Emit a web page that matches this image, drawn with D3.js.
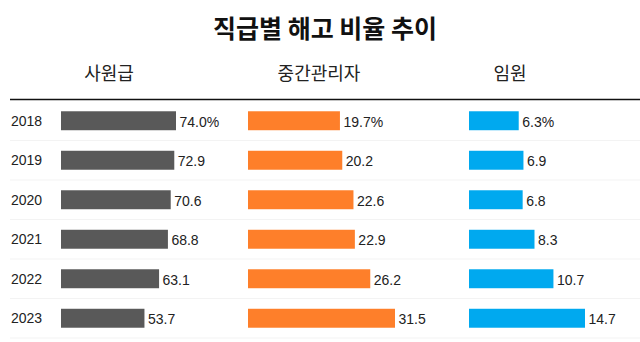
<!DOCTYPE html>
<html><head><meta charset="utf-8">
<script src="https://cdn.jsdelivr.net/npm/d3@7"></script>
<style>body{margin:0;background:#fff}svg{display:block}</style>
</head><body>
<svg id="c" width="640" height="342"></svg>
<script>
const title = "직급별 해고 비율 추이";
const years = ["2018","2019","2020","2021","2022","2023"];
const groups = ["사원급","중간관리자","임원"];
const staff = [74.0,72.9,70.6,68.8,63.1,53.7];
const middle = [19.7,20.2,22.6,22.9,26.2,31.5];
const exec = [6.3,6.9,6.8,8.3,10.7,14.7];
const colors = ["#595959","#fe7f2a","#00a9ef"];

const series = [staff, middle, exec];
const panels = [
  {x0:61, w:115, hx:109},
  {x0:248, w:147, hx:319},
  {x0:469, w:116, hx:510}
];
const svg = d3.select("#c");
const KR = "'Noto Sans CJK KR','Noto Sans',sans-serif";
const NUM = "'Liberation Sans',Arial,sans-serif";

svg.append("text").attr("x",325).attr("y",27).attr("text-anchor","middle")
  .attr("dominant-baseline","central").attr("font-family",KR).attr("font-weight","bold")
  .attr("font-size",25).attr("fill","#111").text(title);

const y = d3.scaleBand().domain(years).range([101,338]).paddingInner(0.52).paddingOuter(0.26);

// separators
svg.append("g").selectAll("line").data(years).join("line")
  .attr("x1",10).attr("x2",640)
  .attr("y1",(d,i)=>101+y.step()*(i+1)).attr("y2",(d,i)=>101+y.step()*(i+1))
  .attr("stroke","#f3f3f3").attr("stroke-width",1);

svg.append("line").attr("x1",10).attr("x2",640).attr("y1",99.5).attr("y2",99.5)
  .attr("stroke","#111").attr("stroke-width",1.6);

// year labels
svg.append("g").selectAll("text").data(years).join("text")
  .attr("x",11).attr("y",d=>y(d)+y.bandwidth()/2).attr("dominant-baseline","central")
  .attr("font-family",NUM).attr("font-size",14).attr("fill","#222").text(d=>d);

series.forEach((vals,k)=>{
  const p = panels[k];
  const x = d3.scaleLinear().domain([0,d3.max(vals)]).range([p.x0,p.x0+p.w]);
  svg.append("text").attr("x",p.hx).attr("y",72).attr("text-anchor","middle")
    .attr("dominant-baseline","central").attr("font-family",KR)
    .attr("font-size",18).attr("fill","#222").text(groups[k]);
  const g = svg.append("g");
  g.selectAll("rect").data(vals).join("rect")
    .attr("x",x(0)).attr("y",(d,i)=>y(years[i]))
    .attr("width",d=>x(d)-x(0)).attr("height",y.bandwidth())
    .attr("fill",colors[k]);
  g.selectAll("text").data(vals).join("text")
    .attr("x",d=>x(d)+3.5).attr("y",(d,i)=>y(years[i])+y.bandwidth()/2+1)
    .attr("dominant-baseline","central").attr("font-family",NUM).attr("font-size",14)
    .attr("fill","#222")
    .text((d,i)=>d.toFixed(1)+(i===0?"%":""));
});
</script>
</body></html>
